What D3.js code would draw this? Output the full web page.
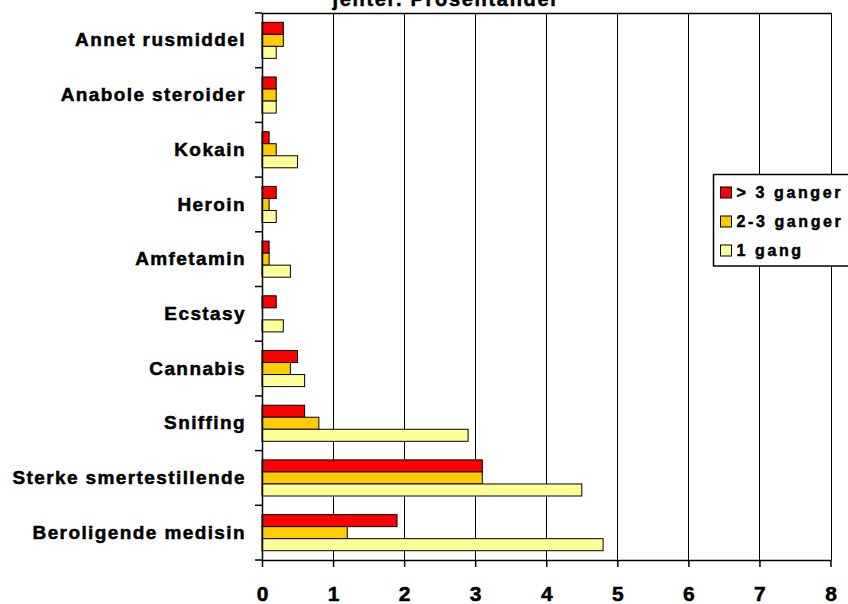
<!DOCTYPE html>
<html>
<head>
<meta charset="utf-8">
<script src="https://cdn.jsdelivr.net/npm/d3@7"></script>
<style>
    body { margin: 0; background: #fff; }
    svg { display: block; font-family: Arial, "Liberation Sans", sans-serif; font-weight: bold; }
    svg text { stroke: #000; stroke-width: 0.5px; }
    .cat-label { font-size: 19px; letter-spacing: 1.4px; }
    .x-label { font-size: 21px; }
    .legend-label { font-size: 16px; letter-spacing: 2.6px; }
    .title { font-size: 20px; letter-spacing: 1.7px; }
</style>
</head>
<body>
<div id="vis"></div>
<script>
    //data, top to bottom
    var categories = ['Annet rusmiddel', 'Anabole steroider', 'Kokain', 'Heroin', 'Amfetamin',
        'Ecstasy', 'Cannabis', 'Sniffing', 'Sterke smertestillende', 'Beroligende medisin'];
    var seriesNames = ['> 3 ganger', '2-3 ganger', '1 gang'];
    var seriesColors = ['#ff0000', '#ffcc00', '#ffff99'];
    var moreThan3 = [0.3, 0.2, 0.1, 0.2, 0.1, 0.2, 0.5, 0.6, 3.1, 1.9];
    var twoTo3 = [0.3, 0.2, 0.2, 0.1, 0.1, 0, 0.4, 0.8, 3.1, 1.2];
    var once = [0.2, 0.2, 0.5, 0.2, 0.4, 0.3, 0.6, 2.9, 4.5, 4.8];
    var xTicks = [0, 1, 2, 3, 4, 5, 6, 7, 8];
    var titleText = 'jenter. Prosentandel';

    var seriesValues = [moreThan3, twoTo3, once];

    //layout
    var width = 848, height = 604;
    var plot = { left: 262, top: 13, right: 830.5, bottom: 560 };

    var svg = d3.select('#vis')
        .append('svg')
        .attr('width', width)
        .attr('height', height);

    var x = d3.scaleLinear().domain([0, 8]).range([plot.left, plot.right]);
    var y = d3.scaleBand().domain(categories).range([plot.top, plot.bottom])
        .paddingInner(0.34).paddingOuter(0.17);
    var ySub = d3.scaleBand().domain(d3.range(seriesNames.length)).range([0, y.bandwidth()]);

    //title (cut off at the top, as in the source)
    svg.append('text')
        .attr('class', 'title')
        .attr('x', 445)
        .attr('y', 6)
        .attr('text-anchor', 'middle')
        .text(titleText);

    //vertical grid lines
    svg.selectAll('.grid')
        .data(xTicks.slice(1))
        .enter()
        .append('line')
        .attr('class', 'grid')
        .attr('x1', function (d) { return Math.round(x(d)) + 0.5; })
        .attr('x2', function (d) { return Math.round(x(d)) + 0.5; })
        .attr('y1', plot.top)
        .attr('y2', plot.bottom)
        .attr('stroke', '#000')
        .attr('stroke-width', 1);

    //top border
    svg.append('line')
        .attr('x1', plot.left)
        .attr('x2', Math.round(plot.right) + 1)
        .attr('y1', plot.top + 0.5)
        .attr('y2', plot.top + 0.5)
        .attr('stroke', '#000')
        .attr('stroke-width', 1.5);

    //bars, one group per category
    var groups = svg.selectAll('.row')
        .data(categories)
        .enter()
        .append('g')
        .attr('class', 'row')
        .attr('transform', function (d) { return 'translate(0,' + y(d) + ')'; });
    groups.each(function (c, ci) {
        var g = d3.select(this);
        seriesValues.forEach(function (s, i) {
            //zero values get no bar
            if (s[ci] <= 0) return;
            g.append('rect')
                .attr('x', x(0))
                .attr('y', ySub(i))
                .attr('width', x(s[ci]) - x(0))
                .attr('height', ySub.bandwidth())
                .attr('fill', seriesColors[i])
                .attr('stroke', '#000')
                .attr('stroke-width', 1);
        });
    });

    //x axis
    var xAxis = d3.axisBottom(x)
        .tickValues(xTicks)
        .tickSize(7)
        .tickSizeOuter(0)
        .tickPadding(19)
        .tickFormat(d3.format('d'));
    var gx = svg.append('g')
        .attr('transform', 'translate(0,' + plot.bottom + ')')
        .call(xAxis);
    gx.attr('font-family', null).attr('font-size', null);
    gx.select('.domain').attr('stroke', '#000').attr('stroke-width', 1.5);
    gx.selectAll('.tick line').attr('stroke', '#000').attr('stroke-width', 1.5);
    gx.selectAll('.tick text').attr('class', 'x-label').attr('fill', '#000');

    //y axis: labels at band centers, ticks at band boundaries
    var yAxis = d3.axisLeft(y).tickSize(0).tickPadding(16);
    var gy = svg.append('g')
        .attr('transform', 'translate(' + plot.left + ',0)')
        .call(yAxis);
    gy.attr('font-family', null).attr('font-size', null);
    gy.select('.domain').attr('stroke', '#000').attr('stroke-width', 1.5);
    gy.selectAll('.tick text').attr('class', 'cat-label').attr('fill', '#000');
    var bounds = categories.map(function (c) { return y(c) - y.step() * 0.17; });
    bounds.push(plot.bottom);
    gy.selectAll('.bound')
        .data(bounds)
        .enter()
        .append('line')
        .attr('class', 'bound')
        .attr('x1', -7)
        .attr('x2', 0)
        .attr('y1', function (d) { return d; })
        .attr('y2', function (d) { return d; })
        .attr('stroke', '#000')
        .attr('stroke-width', 1.5);

    //legend
    var legend = svg.append('g').attr('transform', 'translate(713.5,174.5)');
    legend.append('rect')
        .attr('width', 150)
        .attr('height', 91.5)
        .attr('fill', '#fff')
        .attr('stroke', '#000')
        .attr('stroke-width', 1.5);
    var items = legend.selectAll('.item')
        .data(seriesNames)
        .enter()
        .append('g')
        .attr('class', 'item')
        .attr('transform', function (d, i) { return 'translate(0,' + (18 + i * 29) + ')'; });
    items.append('rect')
        .attr('x', 7)
        .attr('y', -5.5)
        .attr('width', 11)
        .attr('height', 11)
        .attr('fill', function (d, i) { return seriesColors[i]; })
        .attr('stroke', '#000')
        .attr('stroke-width', 1);
    items.append('text')
        .attr('class', 'legend-label')
        .attr('x', 23)
        .attr('dy', '0.36em')
        .text(function (d) { return d; });
</script>
</body>
</html>
